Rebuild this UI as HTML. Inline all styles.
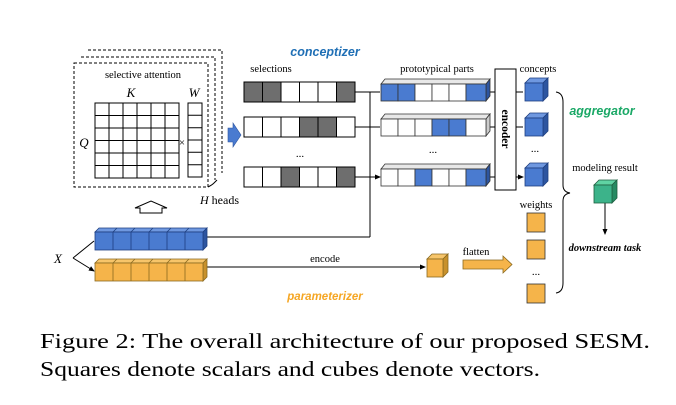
<!DOCTYPE html>
<html><head><meta charset="utf-8"><style>
html,body{margin:0;padding:0;background:#fff;}
svg{display:block;}
text{font-family:"Liberation Serif",serif;}
</style></head><body>
<svg width="676" height="405" viewBox="0 0 676 405" xmlns="http://www.w3.org/2000/svg">
<defs>
<marker id="ah" markerWidth="6" markerHeight="6" refX="5" refY="3" orient="auto" markerUnits="userSpaceOnUse"><path d="M0,0.5 L6,3 L0,5.5 z" fill="#000"/></marker>
</defs>
<g fill="#fff" stroke="#000" stroke-width="1" stroke-dasharray="3,2">
<path d="M88,50 H222 V173"/>
<path d="M81,57 H215 V180"/>
<rect x="74" y="63" width="134" height="124"/>
</g>
<path d="M208,187 Q212,185 214,183 M214,183 L217,180" stroke="#000" fill="none"/>
<text x="143" y="78" font-size="10.5" text-anchor="middle">selective attention</text>
<text x="131" y="97" font-size="13" font-style="italic" text-anchor="middle">K</text>
<text x="194" y="97" font-size="13" font-style="italic" text-anchor="middle">W</text>
<text x="84" y="147" font-size="13" font-style="italic" text-anchor="middle">Q</text>
<text x="182" y="146" font-size="11" text-anchor="middle">×</text>
<g stroke="#000" stroke-width="1" fill="none">
<rect x="95" y="103" width="84" height="75"/>
<path d="M109,103V178M123,103V178M137,103V178M151,103V178M165,103V178M95,115.5H179M95,128H179M95,140.5H179M95,153H179M95,165.5H179"/>
<rect x="188" y="103" width="14" height="74"/>
<path d="M188,115.3H202M188,127.7H202M188,140H202M188,152.3H202M188,164.7H202"/>
</g>
<text x="200" y="204" font-size="12"><tspan font-style="italic">H</tspan> heads</text>
<path d="M140,213 V208 H135 L151,201 L167,208 H162 V213 Z" fill="#fff" stroke="#000"/>
<path d="M228,128 H233 V123 L241,135 L233,147 V142 H228 Z" fill="#4a7bd0" stroke="#2d55a0" stroke-width="0.6"/>
<text x="325" y="56" font-size="12.5" font-weight="bold" font-style="italic" fill="#1f6fb5" text-anchor="middle" style="font-family:'Liberation Sans',sans-serif">conceptizer</text>
<text x="271" y="72" font-size="10.5" text-anchor="middle">selections</text>
<g stroke="#000" stroke-width="1">
<rect x="244" y="82" width="18.5" height="20" fill="#6e6e6e"/><rect x="262.5" y="82" width="18.5" height="20" fill="#6e6e6e"/><rect x="281" y="82" width="18.5" height="20" fill="#fff"/><rect x="299.5" y="82" width="18.5" height="20" fill="#fff"/><rect x="318" y="82" width="18.5" height="20" fill="#fff"/><rect x="336.5" y="82" width="18.5" height="20" fill="#6e6e6e"/>
<rect x="244" y="117" width="18.5" height="20" fill="#fff"/><rect x="262.5" y="117" width="18.5" height="20" fill="#fff"/><rect x="281" y="117" width="18.5" height="20" fill="#fff"/><rect x="299.5" y="117" width="18.5" height="20" fill="#6e6e6e"/><rect x="318" y="117" width="18.5" height="20" fill="#6e6e6e"/><rect x="336.5" y="117" width="18.5" height="20" fill="#fff"/>
<rect x="244" y="167" width="18.5" height="20" fill="#fff"/><rect x="262.5" y="167" width="18.5" height="20" fill="#fff"/><rect x="281" y="167" width="18.5" height="20" fill="#6e6e6e"/><rect x="299.5" y="167" width="18.5" height="20" fill="#fff"/><rect x="318" y="167" width="18.5" height="20" fill="#fff"/><rect x="336.5" y="167" width="18.5" height="20" fill="#6e6e6e"/>
</g>
<text x="300" y="157" font-size="11" text-anchor="middle">...</text>
<g stroke="#000" stroke-width="1" fill="none">
<path d="M355,92 H370 M355,127 H370 M355,177 H370 M370,92 V237 M207,237 H370"/>
<path d="M370,92 H380 M370,127 H380 M370,177 H380" marker-end="url(#ah)"/>
<path d="M207,267 H425" marker-end="url(#ah)"/>
<path d="M73,258 L94,241 M73,258 L94,271" marker-end="url(#ah)"/>
<path d="M486,92 H495 M486,127 H495 M486,177 H495"/>
<path d="M516,92 H523 M516,127 H523 M516,177 H523" marker-end="url(#ah)"/>
<path d="M605,202 V234" marker-end="url(#ah)"/>
</g>
<text x="58" y="263" font-size="13" font-style="italic" text-anchor="middle">X</text>
<g stroke="#1e3f80" stroke-width="0.8">
<path d="M95,232 L99,228 H207 L203,232 Z" fill="#6f98e0"/>
<path d="M203,232 L207,228 V246 L203,250 Z" fill="#2d55a0"/>
<rect x="95" y="232" width="108" height="18" fill="#4a7bd0"/>
<path d="M113,232V250M131,232V250M149,232V250M167,232V250M185,232V250M113,232l4,-4M131,232l4,-4M149,232l4,-4M167,232l4,-4M185,232l4,-4" fill="none"/>
</g>
<g stroke="#8a6a20" stroke-width="0.8">
<path d="M95,263 L99,259 H207 L203,263 Z" fill="#f7c56a"/>
<path d="M203,263 L207,259 V277 L203,281 Z" fill="#c8912c"/>
<rect x="95" y="263" width="108" height="18" fill="#f5b44a"/>
<path d="M113,263V281M131,263V281M149,263V281M167,263V281M185,263V281M113,263l4,-4M131,263l4,-4M149,263l4,-4M167,263l4,-4M185,263l4,-4" fill="none"/>
</g>
<text x="325" y="262" font-size="10.5" text-anchor="middle">encode</text>
<text x="325" y="300" font-size="11.5" font-weight="bold" font-style="italic" fill="#f5a623" text-anchor="middle" style="font-family:'Liberation Sans',sans-serif">parameterizer</text>
<text x="437" y="72" font-size="10.5" text-anchor="middle">prototypical parts</text>
<g stroke="#333" stroke-width="0.8">
<path d="M381,84 L385,79 H490 L486,84 Z" fill="#e8e8e8"/>
<path d="M486,84 L490,79 V96 L486,101 Z" fill="#2d55a0"/>
<rect x="381" y="84" width="17" height="17" fill="#4a7bd0"/><rect x="398" y="84" width="17" height="17" fill="#4a7bd0"/><rect x="415" y="84" width="17" height="17" fill="#fff"/><rect x="432" y="84" width="17" height="17" fill="#fff"/><rect x="449" y="84" width="17" height="17" fill="#fff"/><rect x="466" y="84" width="20" height="17" fill="#4a7bd0"/>
<path d="M381,119 L385,114 H490 L486,119 Z" fill="#e8e8e8"/>
<path d="M486,119 L490,114 V131 L486,136 Z" fill="#ccc"/>
<rect x="381" y="119" width="17" height="17" fill="#fff"/><rect x="398" y="119" width="17" height="17" fill="#fff"/><rect x="415" y="119" width="17" height="17" fill="#fff"/><rect x="432" y="119" width="17" height="17" fill="#4a7bd0"/><rect x="449" y="119" width="17" height="17" fill="#4a7bd0"/><rect x="466" y="119" width="20" height="17" fill="#fff"/>
<path d="M381,169 L385,164 H490 L486,169 Z" fill="#e8e8e8"/>
<path d="M486,169 L490,164 V181 L486,186 Z" fill="#2d55a0"/>
<rect x="381" y="169" width="17" height="17" fill="#fff"/><rect x="398" y="169" width="17" height="17" fill="#fff"/><rect x="415" y="169" width="17" height="17" fill="#4a7bd0"/><rect x="432" y="169" width="17" height="17" fill="#fff"/><rect x="449" y="169" width="17" height="17" fill="#fff"/><rect x="466" y="169" width="20" height="17" fill="#4a7bd0"/>
</g>
<text x="433" y="153" font-size="11" text-anchor="middle">...</text>
<rect x="495" y="69" width="21" height="121" fill="#fff" stroke="#000"/>
<text x="0" y="0" font-size="11.5" font-weight="bold" transform="translate(502,129) rotate(90)" text-anchor="middle">encoder</text>
<text x="538" y="72" font-size="10.5" text-anchor="middle">concepts</text>
<g stroke="#1e3f80" stroke-width="0.8">
<path d="M525,83 L530,78 H548 L543,83 Z" fill="#6f98e0"/><path d="M543,83 L548,78 V96 L543,101 Z" fill="#2d55a0"/><rect x="525" y="83" width="18" height="18" fill="#4a7bd0"/>
<path d="M525,118 L530,113 H548 L543,118 Z" fill="#6f98e0"/><path d="M543,118 L548,113 V131 L543,136 Z" fill="#2d55a0"/><rect x="525" y="118" width="18" height="18" fill="#4a7bd0"/>
<path d="M525,168 L530,163 H548 L543,168 Z" fill="#6f98e0"/><path d="M543,168 L548,163 V181 L543,186 Z" fill="#2d55a0"/><rect x="525" y="168" width="18" height="18" fill="#4a7bd0"/>
</g>
<text x="535" y="152" font-size="11" text-anchor="middle">...</text>
<text x="536" y="208" font-size="10.5" text-anchor="middle">weights</text>
<g stroke="#333" stroke-width="0.8" fill="#f5b44a">
<rect x="527" y="213" width="18" height="19"/><rect x="527" y="240" width="18" height="19"/><rect x="527" y="284" width="18" height="19"/>
</g>
<text x="536" y="275" font-size="11" text-anchor="middle">...</text>
<g stroke="#8a6a20" stroke-width="0.8">
<path d="M427,259 L432,254 H448 L443,259 Z" fill="#f7c56a"/><path d="M443,259 L448,254 V272 L443,277 Z" fill="#c8912c"/><rect x="427" y="259" width="16" height="18" fill="#f5b44a"/>
</g>
<path d="M463,260 H503 V256 L512,264.5 L503,273 V269 H463 Z" fill="#f5b44a" stroke="#8a6a20" stroke-width="0.8"/>
<text x="476" y="255" font-size="10.5" text-anchor="middle">flatten</text>
<path d="M556,92 Q563,93 563,102 V185 Q563,192 570,193 Q563,194 563,201 V283 Q563,292 556,293" fill="none" stroke="#000"/>
<text x="602" y="115" font-size="12.5" font-weight="bold" font-style="italic" fill="#1aa866" text-anchor="middle" style="font-family:'Liberation Sans',sans-serif">aggregator</text>
<text x="605" y="171" font-size="10.5" text-anchor="middle">modeling result</text>
<g stroke="#1e5f40" stroke-width="0.8">
<path d="M594,185 L599,180 H617 L612,185 Z" fill="#5fd3a3"/><path d="M612,185 L617,180 V198 L612,203 Z" fill="#268a62"/><rect x="594" y="185" width="18" height="18" fill="#3cb38a"/>
</g>
<text x="605" y="251" font-size="10.5" font-weight="bold" font-style="italic" text-anchor="middle">downstream task</text>
<text x="40" y="348" font-size="21.5" textLength="610" lengthAdjust="spacingAndGlyphs">Figure 2: The overall architecture of our proposed SESM.</text>
<text x="40" y="376" font-size="21.5" textLength="500" lengthAdjust="spacingAndGlyphs">Squares denote scalars and cubes denote vectors.</text>
</svg>
</body></html>
